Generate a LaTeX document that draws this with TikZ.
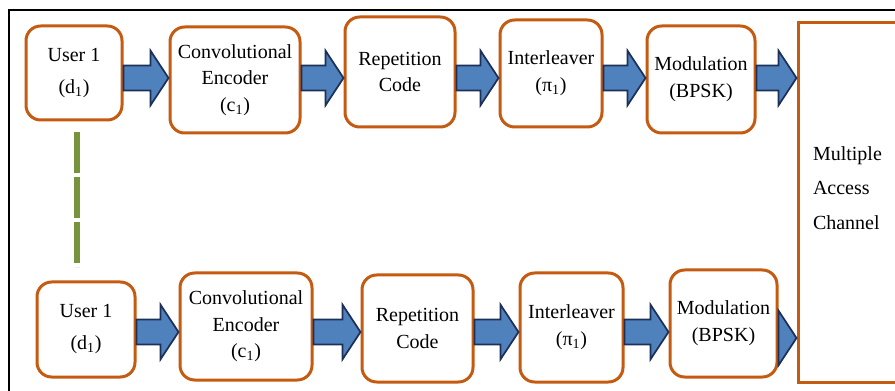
\documentclass[tikz,border=0pt]{standalone}
\usepackage{fontspec}
\setmainfont{Liberation Serif}
\usetikzlibrary{calc}
\definecolor{boxorange}{RGB}{197,90,17}
\definecolor{arrowblue}{RGB}{79,129,189}
\definecolor{arrowline}{RGB}{28,48,88}
\definecolor{dotgreen}{RGB}{119,147,60}

\begin{document}
\begin{tikzpicture}[x=0.75pt,y=-0.75pt,
	frame/.style={draw=black, line width=1.5pt},
	blockbox/.style={draw=boxorange, line width=2.25pt, rounded corners=11pt, fill=white, align=center, inner sep=0pt, font=\fontsize{15}{20}\selectfont},
	macbox/.style={draw=boxorange, line width=2.25pt, fill=white, inner sep=0pt},
	dotline/.style={draw=dotgreen, line width=4.5pt, dash pattern=on 30.75pt off 3pt},
	bigarrow/.style={draw=arrowline, fill=arrowblue, line width=1.3pt, line join=miter,
		to path={let \p1=(\tikztostart), \p2=(\tikztotarget) in
			(\x1,\y1+9.4pt) -- (\x2-13.5pt,\y1+9.4pt) -- (\x2-13.5pt,\y1+20.5pt) -- (\x2,\y1) -- (\x2-13.5pt,\y1-20.5pt) -- (\x2-13.5pt,\y1-9.4pt) -- (\x1,\y1-9.4pt) -- cycle}}]
	\useasboundingbox (0,0) rectangle (895,391);
	\draw[frame] (9,391) -- (9,10) -- (895,10);

	\node[blockbox, minimum width=72pt, minimum height=70.5pt] (user1) at (74,73) {User 1\\[4pt](d\textsubscript{1})};
	\node[blockbox, minimum width=97.5pt, minimum height=79.5pt] (conv1) at (235,80) {Convolutional\\Encoder\\(c\textsubscript{1})};
	\node[blockbox, minimum width=82.5pt, minimum height=82.5pt] (rep1) at (400,72) {Repetition\\Code};
	\node[blockbox, minimum width=76.5pt, minimum height=80.25pt] (int1) at (551,73.5) {Interleaver\\(π\textsubscript{1})};
	\node[blockbox, minimum width=81pt, minimum height=80.25pt] (mod1) at (701,79.5) {Modulation\\(BPSK)};

	\node[blockbox, minimum width=73.5pt, minimum height=71.25pt] (user2) at (86,329.5) {User 1\\[4pt](d\textsubscript{1})};
	\node[blockbox, minimum width=99pt, minimum height=80.25pt] (conv2) at (246,326.5) {Convolutional\\Encoder\\(c\textsubscript{1})};
	\node[blockbox, minimum width=83.25pt, minimum height=80.25pt] (rep2) at (417.5,328.5) {Repetition\\Code};
	\node[blockbox, minimum width=77.25pt, minimum height=81.75pt] (int2) at (571.5,327.5) {Interleaver\\(π\textsubscript{1})};
	\node[blockbox, minimum width=80.25pt, minimum height=80.25pt] (mod2) at (723.5,323.5) {Modulation\\(BPSK)};

	\node[macbox, minimum width=82.5pt, minimum height=269.25pt,
		label={[yshift=11pt, align=left, text width=60pt, font=\fontsize{15}{26}\selectfont]center:Multiple\\Access\\Channel}] (mac) at (853,202.5) {};

	\coordinate (row1) at (0,78);
	\coordinate (row2) at (0,332);
	\coordinate (row3) at (0,338);
	\draw[bigarrow] (user1.east |- row1) to (conv1.west |- row1);
	\draw[bigarrow] (conv1.east |- row1) to (rep1.west |- row1);
	\draw[bigarrow] (rep1.east |- row1) to (int1.west |- row1);
	\draw[bigarrow] (int1.east |- row1) to (mod1.west |- row1);
	\draw[bigarrow] (mod1.east |- row1) to (mac.west |- row1);
	\draw[bigarrow] (user2.east |- row2) to (conv2.west |- row2);
	\draw[bigarrow] (conv2.east |- row2) to (rep2.west |- row2);
	\draw[bigarrow] (rep2.east |- row2) to (int2.west |- row2);
	\draw[bigarrow] (int2.east |- row2) to (mod2.west |- row2);
	\draw[bigarrow] (mod2.east |- row3) to (mac.west |- row3);

	\coordinate (dots1) at (77,132);
	\coordinate (dots2) at (77,267);
	\draw[dotline] (dots1) -- (dots2);
\end{tikzpicture}
\end{document}
